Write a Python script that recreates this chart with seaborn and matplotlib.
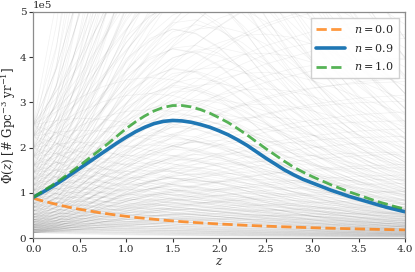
import numpy as np
import pandas as pd
import matplotlib
matplotlib.use("Agg")
import matplotlib.pyplot as plt
import seaborn as sns

# ---- data (values in units of 1e5 Gpc^-3 yr^-1) ----
z_main = [round(0.1 * i, 1) for i in range(41)]
phi_n00 = [0.88, 0.82, 0.77, 0.72, 0.675, 0.635, 0.60, 0.565, 0.535, 0.505,
           0.48, 0.455, 0.435, 0.415, 0.395, 0.378, 0.362, 0.348, 0.335, 0.322,
           0.31, 0.30, 0.29, 0.28, 0.271, 0.263, 0.255, 0.248, 0.241, 0.234,
           0.228, 0.222, 0.216, 0.211, 0.206, 0.201, 0.196, 0.191, 0.187, 0.183, 0.179]
phi_n09 = [0.90, 1.01, 1.13, 1.26, 1.40, 1.54, 1.68, 1.82, 1.96, 2.10,
           2.23, 2.35, 2.45, 2.53, 2.58, 2.60, 2.59, 2.56, 2.51, 2.45,
           2.37, 2.28, 2.17, 2.05, 1.91, 1.77, 1.64, 1.51, 1.40, 1.30,
           1.22, 1.14, 1.06, 0.99, 0.92, 0.86, 0.80, 0.74, 0.68, 0.63, 0.58]
phi_n10 = [0.90, 1.03, 1.16, 1.30, 1.45, 1.60, 1.76, 1.92, 2.08, 2.25,
           2.42, 2.57, 2.70, 2.81, 2.89, 2.93, 2.93, 2.90, 2.84, 2.76,
           2.66, 2.55, 2.42, 2.28, 2.13, 1.98, 1.84, 1.70, 1.57, 1.46,
           1.36, 1.27, 1.18, 1.10, 1.02, 0.95, 0.88, 0.81, 0.75, 0.69, 0.64]
labels = [r"$n=0.0$", r"$n=0.9$", r"$n=1.0$"]

# background posterior draws: shapes (relative to z=0) and amplitudes at z=0
z_gray = [0.25 * i for i in range(17)]
gray_shapes = [
    [1, .84, .72, .62, .55, .49, .44, .40, .36, .33, .31, .29, .27, .25, .23, .22, .21],
    [1, .93, .85, .78, .71, .65, .59, .54, .49, .45, .41, .38, .35, .32, .30, .28, .26],
    [1, 1.04, 1.06, 1.05, 1.02, .97, .91, .85, .79, .73, .67, .62, .57, .52, .48, .44, .41],
    [1, 1.12, 1.24, 1.34, 1.40, 1.42, 1.40, 1.34, 1.26, 1.17, 1.08, .99, .91, .84, .77, .71, .66],
    [1, 1.24, 1.54, 1.98, 2.48, 2.72, 2.89, 2.83, 2.64, 2.33, 1.96, 1.64, 1.36, 1.13, .96, .81, .69],
    [1, 1.3, 1.7, 2.2, 2.7, 3.1, 3.4, 3.55, 3.6, 3.5, 3.3, 3.0, 2.7, 2.4, 2.1, 1.85, 1.6],
    [1, 1.5, 2.2, 3.0, 3.7, 4.2, 4.4, 4.3, 4.0, 3.55, 3.05, 2.6, 2.2, 1.85, 1.55, 1.3, 1.1],
    [1, 1.7, 2.8, 4.1, 5.4, 6.4, 7.0, 7.1, 6.8, 6.2, 5.5, 4.8, 4.1, 3.5, 3.0, 2.6, 2.2],
    [1, 2.1, 3.9, 6.2, 8.5, 10.3, 11.4, 11.8, 11.5, 10.8, 9.8, 8.7, 7.6, 6.6, 5.7, 4.9, 4.2],
    [1, 1.3, 1.6, 1.95, 2.3, 2.65, 3.0, 3.3, 3.6, 3.85, 4.05, 4.2, 4.35, 4.45, 4.55, 4.6, 4.65],
    [1, 1.5, 2.2, 3.0, 3.9, 4.8, 5.6, 6.3, 6.9, 7.4, 7.8, 8.1, 8.3, 8.45, 8.55, 8.6, 8.65],
    [1, 1.15, 1.35, 1.6, 1.85, 2.1, 2.35, 2.55, 2.7, 2.8, 2.82, 2.78, 2.68, 2.55, 2.4, 2.25, 2.1],
]
gray_amps = [0.12, 0.15, 0.18, 0.22, 0.26, 0.3, 0.35, 0.4, 0.46, 0.52, 0.6, 0.68,
             0.76, 0.85, 0.95, 1.05, 1.17, 1.3, 1.45, 1.6, 1.8, 2.0, 2.25, 2.5]

# ---- build tables ----
rows = []
k = 0
for shape in gray_shapes:
    for amp in gray_amps:
        for zz, s in zip(z_gray, shape):
            rows.append({"z": zz, "phi": amp * s * 1e5, "draw": k})
        k += 1
gray_df = pd.DataFrame(rows)

main_df = pd.DataFrame({
    "z": z_main * 3,
    "phi": [v * 1e5 for v in phi_n00 + phi_n09 + phi_n10],
    "model": [labels[0]] * len(z_main) + [labels[1]] * len(z_main) + [labels[2]] * len(z_main),
})

# ---- style ----
sns.set_theme(style="ticks")
plt.rcParams["font.family"] = ["DejaVu Serif"]
plt.rcParams["mathtext.fontset"] = "dejavuserif"
plt.rcParams["font.size"] = 7.5

fig, ax = plt.subplots(figsize=(4.15, 2.72), dpi=100)
fig.subplots_adjust(left=0.08, right=0.976, top=0.956, bottom=0.125)

sns.lineplot(data=gray_df, x="z", y="phi", units="draw", estimator=None,
             color="0.25", alpha=0.07, lw=0.5, ax=ax, legend=False)

palette = {labels[0]: "#ff7f0e", labels[1]: "#1f77b4", labels[2]: "#2ca02c"}
styles = [(labels[0], "--", 2.0, 0.8), (labels[1], "-", 2.6, 1.0), (labels[2], "--", 2.0, 0.8)]
for lab, ls, lw, al in styles:
    sub = main_df[main_df["model"] == lab]
    sns.lineplot(data=sub, x="z", y="phi", color=palette[lab], ls=ls, lw=lw,
                 alpha=al, ax=ax, label=lab)

ax.set_xlim(0, 4)
ax.set_ylim(0, 5e5)
ax.set_xticks(np.arange(0, 4.01, 0.5))
ax.set_xlabel(r"$z$", fontsize=8.5, labelpad=1)
ax.set_ylabel(r"$\Phi(z)$ [# Gpc$^{-3}$ yr$^{-1}$]", fontsize=8.5, labelpad=1)
ax.ticklabel_format(axis="y", style="sci", scilimits=(0, 0))
ax.yaxis.get_offset_text().set_fontsize(7.5)
ax.tick_params(labelsize=7.5, length=3, width=0.8, color="0.2", pad=2)
for sp in ax.spines.values():
    sp.set_visible(True)
    sp.set_color("0.55")
    sp.set_linewidth(0.9)

leg = ax.legend(loc="upper right", fontsize=8, frameon=True, fancybox=False,
                handlelength=2.6, borderpad=0.5, labelspacing=0.6, framealpha=0.9)
leg.get_frame().set_edgecolor("0.8")

fig.savefig("out.png", dpi=100)
